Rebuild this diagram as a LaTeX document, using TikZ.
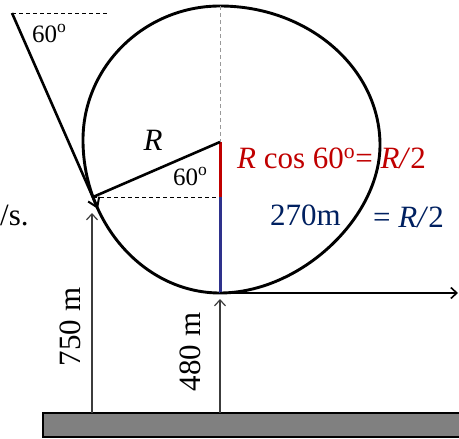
\documentclass[tikz,border=0pt]{standalone}
\usepackage{fontspec}
\setmainfont{Liberation Serif}
\usetikzlibrary{arrows.meta}
\definecolor{myred}{RGB}{192,0,0}
\definecolor{mynavy}{RGB}{0,32,96}
\definecolor{myline}{RGB}{46,49,140}
\definecolor{myground}{RGB}{128,128,128}
\definecolor{mydim}{RGB}{60,60,60}
\tikzset{
  lbl/.style={inner sep=0pt, font=\fontsize{31}{36}\selectfont},
  anglbl/.style={inner sep=0pt, font=\fontsize{25}{30}\selectfont},
  thickline/.style={line width=2.6pt, black},
  thinarrow/.style={line width=1.2pt, mydim, -{Straight Barb[length=6pt,width=11pt,line width=1.2pt]}},
  helper/.style={line width=1pt, dash pattern=on 4pt off 3pt},
}
\begin{document}
\begin{tikzpicture}[x=1pt,y=-1pt]
\useasboundingbox (0,0) rectangle (459,439);
% key points
\coordinate (C) at (220,142);
\coordinate (top) at (220,6);
\coordinate (rgt) at (380,145);
\coordinate (bot) at (220,293);
\coordinate (lft) at (83,140);
\coordinate (T) at (93,197);
\coordinate (M) at (220,197);
\coordinate (S) at (12,13);
\coordinate (Sd) at (108,13);
\coordinate (tip) at (98,209);
\coordinate (hend) at (458,293);
\coordinate (g1) at (92,413);
\coordinate (g1t) at (92,213);
\coordinate (g2) at (220,413);
\coordinate (g2t) at (220,299);
% ground
\draw[line width=2pt, fill=myground] (43,413) rectangle (470,437);
% loop
\draw[line width=2.9pt] (top) .. controls (308,6) and (380,68) .. (rgt)
  .. controls (380,218) and (300,293) .. (bot)
  .. controls (145,293) and (83,224) .. (lft)
  .. controls (83,66) and (145,6) .. (top);
% gray dashed vertical
\draw[gray!80, helper] (top) -- (C);
% dashed helpers
\draw[helper] (S) -- (Sd);
\draw[helper] (T) -- (M);
% red and blue segments
\draw[myred, line width=3pt] (C) -- (M);
\draw[myline, line width=3pt] (M) -- (bot);
% radius
\draw[thickline] (C) -- (T);
% incoming path
\draw[thickline, -{Straight Barb[length=9pt,width=12pt,line width=2pt]}] (S) -- (tip);
% outgoing horizontal
\draw[thickline, -{Straight Barb[length=6pt,width=11pt,line width=1.6pt]}] (bot) -- (hend);
% height arrows
\draw[thinarrow] (g1) -- (g1t);
\draw[thinarrow] (g2) -- (g2t);
% labels
\node[anglbl, anchor=base west] (a1) at (32,42) {60\textsuperscript{o}};
\node[anglbl, anchor=base west] (a2) at (173,185) {60\textsuperscript{o}};
\node[lbl, anchor=base] (Rl) at (153,150) {\textit{R}};
\node[lbl, anchor=base west] (ms) at (0,225) {/s.};
\node[lbl, anchor=base west, text=myred] (rc) at (237,168) {\textit{R} cos 60\textsuperscript{o}= \textit{R/}2};
\node[lbl, anchor=base west, text=mynavy] (h1) at (270,225) {270m};
\node[lbl, anchor=base west, text=mynavy] (h2) at (373,227) {= \textit{R/}2};
\node[lbl, rotate=90] (d1) at (70,327) {750 m};
\node[lbl, rotate=90] (d2) at (190,352) {480 m};
\end{tikzpicture}
\end{document}
